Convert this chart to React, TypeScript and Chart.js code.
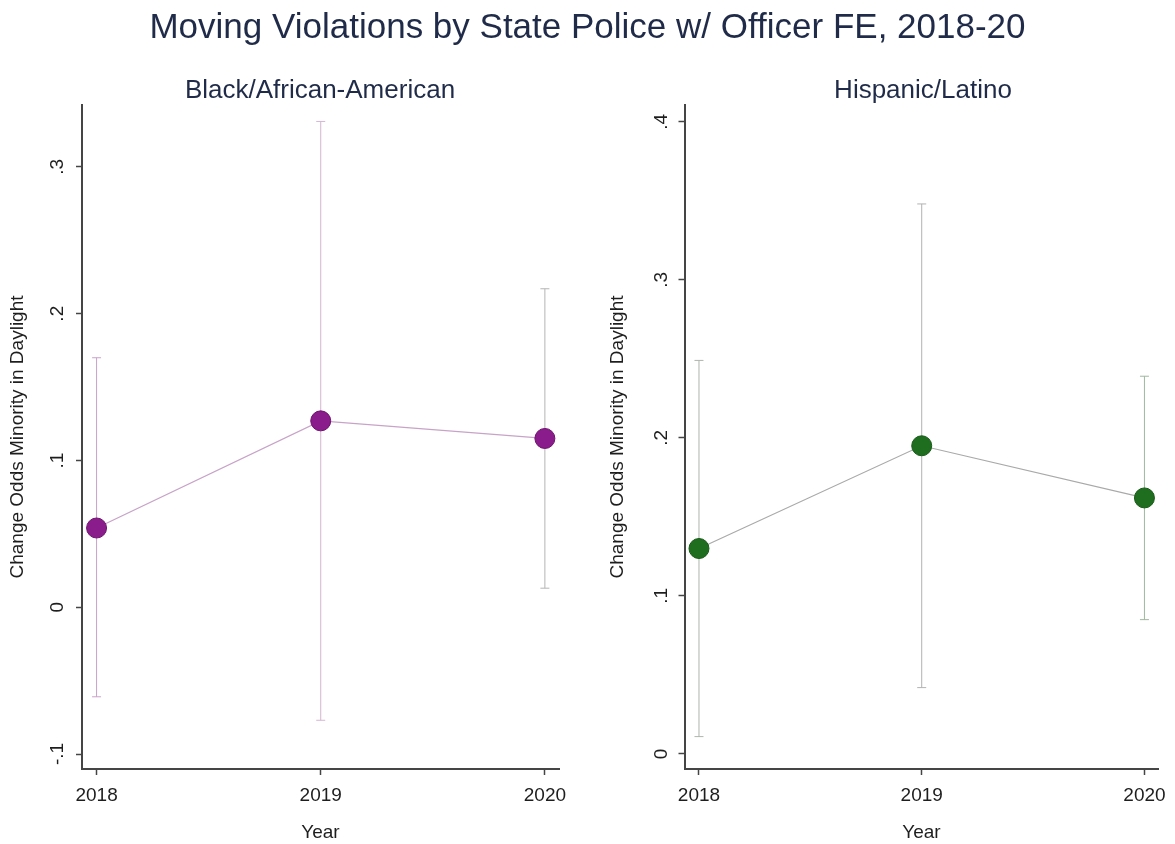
import React, { useEffect, useRef } from "react";
import { Chart, registerables } from "chart.js";

Chart.register(...registerables);

// Estimates and 95% confidence bounds by year
const years = [2018, 2019, 2020];
const yearTickLabels = ["2018", "2019", "2020"];

const blackEst = [0.054, 0.127, 0.115];
const blackLo = [-0.061, -0.077, 0.013];
const blackHi = [0.17, 0.331, 0.217];
const blackTicks = [-0.1, 0, 0.1, 0.2, 0.3];
const blackTickLabels = ["-.1", "0", ".1", ".2", ".3"];

const hispEst = [0.13, 0.195, 0.162];
const hispLo = [0.011, 0.042, 0.085];
const hispHi = [0.249, 0.348, 0.239];
const hispTicks = [0, 0.1, 0.2, 0.3, 0.4];
const hispTickLabels = ["0", ".1", ".2", ".3", ".4"];

const FONT = "'Liberation Sans', Arial, Helvetica, sans-serif";
const TEXT = "#1e1e1e";
const TITLE = "#1f2b48";
const AXIS = "#454545";

type PanelProps = {
  est: number[];
  lo: number[];
  hi: number[];
  ticks: number[];
  tickLabels: string[];
  yMin: number;
  yMax: number;
  marker: string;
  markerEdge: string;
  line: string;
  bars: string[];
  width: number;
  padLeft: number;
  padRight: number;
  yWidth: number;
  tickPad: number;
};

function Panel(p: PanelProps) {
  const ref = useRef<HTMLCanvasElement | null>(null);

  useEffect(() => {
    if (!ref.current) return;
    const series = {
      data: years.map((x, i) => ({ x, y: p.est[i] })),
      borderColor: p.line,
      borderWidth: 1.2,
      pointRadius: 10,
      pointBackgroundColor: p.marker,
      pointBorderColor: p.markerEdge,
      pointBorderWidth: 1,
      tension: 0,
    };
    const errorBars = years.map((x, i) => ({
      data: [
        { x, y: p.lo[i] },
        { x, y: p.hi[i] },
      ],
      borderColor: p.bars[i],
      borderWidth: 1,
      pointStyle: "line" as const,
      pointRadius: 4.5,
      pointBorderColor: p.bars[i],
      pointBorderWidth: 1,
    }));

    const chart = new Chart(ref.current, {
      type: "line",
      data: { datasets: [series, ...errorBars] as any },
      options: {
        animation: false,
        responsive: false,
        maintainAspectRatio: false,
        events: [],
        layout: { padding: { left: p.padLeft, right: p.padRight, top: 105, bottom: 0 } },
        plugins: {
          legend: { display: false },
          tooltip: { enabled: false },
          title: { display: false },
        },
        scales: {
          x: {
            type: "linear",
            min: 2017.935,
            max: 2020.063,
            afterBuildTicks: (s: any) => {
              s.ticks = years.map((v) => ({ value: v }));
            },
            afterFit: (s: any) => {
              s.height = 75;
            },
            grid: {
              display: true,
              drawOnChartArea: false,
              drawTicks: true,
              tickLength: 6,
              tickColor: AXIS,
              tickWidth: 1.5,
            },
            border: { display: true, color: AXIS, width: 2 },
            ticks: {
              autoSkip: false,
              minRotation: 0,
              maxRotation: 0,
              padding: 9,
              color: TEXT,
              font: { family: FONT, size: 19 },
              callback: (_v: any, i: number) => yearTickLabels[i],
            },
            title: {
              display: true,
              text: "Year",
              color: TEXT,
              font: { family: FONT, size: 19 },
              padding: { top: 0, bottom: 0 },
            },
          },
          y: {
            type: "linear",
            min: p.yMin,
            max: p.yMax,
            afterBuildTicks: (s: any) => {
              s.ticks = p.ticks.map((v) => ({ value: v }));
            },
            afterFit: (s: any) => {
              s.width = p.yWidth;
            },
            grid: {
              display: true,
              drawOnChartArea: false,
              drawTicks: true,
              tickLength: 6,
              tickColor: AXIS,
              tickWidth: 1.5,
            },
            border: { display: true, color: AXIS, width: 2 },
            ticks: {
              autoSkip: false,
              minRotation: 90,
              maxRotation: 90,
              crossAlign: "center",
              padding: p.tickPad,
              color: TEXT,
              font: { family: FONT, size: 19 },
              callback: (_v: any, i: number) => p.tickLabels[i],
            },
            title: {
              display: true,
              text: "Change Odds Minority in Daylight",
              color: TEXT,
              font: { family: FONT, size: 19 },
              padding: { top: 6, bottom: 0 },
            },
          },
        },
      },
    });
    return () => chart.destroy();
  }, []);

  return (
    <canvas
      ref={ref}
      width={p.width}
      height={844}
      style={{ display: "block", width: p.width, height: 844 }}
    />
  );
}

export default function App() {
  return (
    <div
      style={{
        position: "absolute",
        left: 0,
        top: 0,
        width: 1175,
        height: 844,
        background: "#ffffff",
        fontFamily: FONT,
        overflow: "hidden",
      }}
    >
      <div style={{ position: "absolute", left: 0, top: 0 }}>
        <Panel
          est={blackEst}
          lo={blackLo}
          hi={blackHi}
          ticks={blackTicks}
          tickLabels={blackTickLabels}
          yMin={-0.1102}
          yMax={0.3422}
          marker="#8b1c8b"
          markerEdge="#6e146e"
          line="#c7a3c7"
          bars={["#c9a2c9", "#d3b6d3", "#b4b4b4"]}
          width={587}
          padLeft={0}
          padRight={28}
          yWidth={82}
          tickPad={7}
        />
      </div>
      <div style={{ position: "absolute", left: 587, top: 0 }}>
        <Panel
          est={hispEst}
          lo={hispLo}
          hi={hispHi}
          ticks={hispTicks}
          tickLabels={hispTickLabels}
          yMin={-0.0095}
          yMax={0.4106}
          marker="#1f6e1f"
          markerEdge="#185a18"
          line="#a9a9a9"
          bars={["#adb5ad", "#b2b2b2", "#9fb89f"]}
          width={588}
          padLeft={13.5}
          padRight={14}
          yWidth={84}
          tickPad={9}
        />
      </div>
      <div
        style={{
          position: "absolute",
          left: 0,
          top: 8,
          width: 1175,
          textAlign: "center",
          fontSize: 35,
          lineHeight: "35px",
          color: TITLE,
          whiteSpace: "nowrap",
        }}
      >
        Moving Violations by State Police w/ Officer FE, 2018-20
      </div>
      <div
        style={{
          position: "absolute",
          left: 120,
          top: 76,
          width: 400,
          textAlign: "center",
          fontSize: 26,
          lineHeight: "26px",
          color: TITLE,
          whiteSpace: "nowrap",
        }}
      >
        Black/African-American
      </div>
      <div
        style={{
          position: "absolute",
          left: 723,
          top: 76,
          width: 400,
          textAlign: "center",
          fontSize: 26,
          lineHeight: "26px",
          color: TITLE,
          whiteSpace: "nowrap",
        }}
      >
        Hispanic/Latino
      </div>
    </div>
  );
}
